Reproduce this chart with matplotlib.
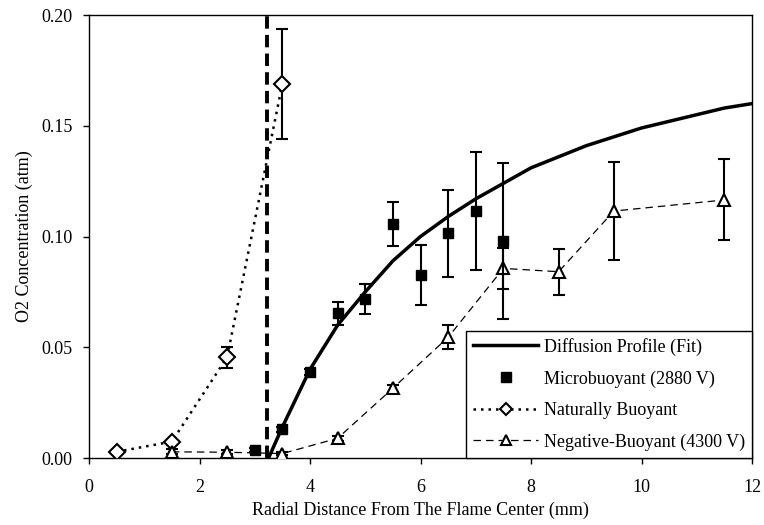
import matplotlib
matplotlib.use("Agg")
import matplotlib.pyplot as plt
from matplotlib.lines import Line2D

plt.rcParams['font.family'] = ['Liberation Serif', 'DejaVu Serif']

# Naturally buoyant flame
nat_r = [0.5, 1.5, 2.5, 3.5]
nat_c = [0.0028, 0.0074, 0.0455, 0.169]
nat_err = [0.0005, 0.0008, 0.0048, 0.0248]

# Microbuoyant flame (2880 V)
micro_r = [3.0, 3.5, 4.0, 4.5, 5.0, 5.5, 6.0, 6.5, 7.0, 7.5]
micro_c = [0.0036, 0.013, 0.0388, 0.0653, 0.0718, 0.1056, 0.0826, 0.1014, 0.1115, 0.098]
micro_err = [0.0008, 0.0012, 0.0015, 0.0052, 0.0068, 0.010, 0.0134, 0.0196, 0.0265, 0.0354]

# Negative-buoyant flame (4300 V)
neg_r = [1.5, 2.5, 3.5, 4.5, 5.5, 6.5, 7.5, 8.5, 9.5, 11.5]
neg_c = [0.0028, 0.0026, 0.002, 0.0089, 0.0315, 0.0545, 0.0856, 0.0841, 0.1115, 0.1165]
neg_err = [0.0012, 0.001, 0.0008, 0.001, 0.0015, 0.0055, 0.0092, 0.0104, 0.0222, 0.0183]

# Diffusion profile fit
fit_r = [3.25, 3.5, 4.0, 4.5, 5.0, 5.5, 6.0, 6.5, 7.0, 7.5, 8.0, 8.5, 9.0, 9.5,
         10.0, 10.5, 11.0, 11.5, 12.0]
fit_c = [0.0, 0.014, 0.040, 0.060, 0.075, 0.089, 0.100, 0.109, 0.117, 0.124,
         0.131, 0.136, 0.141, 0.145, 0.149, 0.152, 0.155, 0.158, 0.160]

flame_radius = 3.23

x_ticks = [0, 2, 4, 6, 8, 10, 12]
y_ticks = [0.00, 0.05, 0.10, 0.15, 0.20]

fig = plt.figure(figsize=(7.64, 5.25), dpi=100)
ax = fig.add_axes([0.1165, 0.1276, 0.8678, 0.8438])

err_kw = dict(ecolor='black', elinewidth=1.5, capsize=4.5, capthick=1.5)

# flame sheet location
ax.axvline(flame_radius, color='black', lw=2.8, dashes=(3.2, 1.6), zorder=2)

# diffusion fit
ax.plot(fit_r, fit_c, color='black', lw=2.5, zorder=3)

# naturally buoyant
ax.plot(nat_r, nat_c, color='black', lw=1.8, linestyle=(0, (1, 2)), zorder=3)
ax.errorbar(nat_r, nat_c, yerr=nat_err, fmt='D', ms=8.5, mfc='white', mec='black',
            mew=1.5, zorder=5, **err_kw)

# negative buoyant
ax.plot(neg_r, neg_c, color='black', lw=0.9, dashes=(6, 4), zorder=3)
ax.errorbar(neg_r, neg_c, yerr=neg_err, fmt='^', ms=8.5, mfc='white', mec='black',
            mew=1.5, zorder=5, **err_kw)

# microbuoyant
ax.errorbar(micro_r, micro_c, yerr=micro_err, fmt='s', ms=6.5, mfc='black', mec='black',
            zorder=6, **err_kw)

ax.set_xlim(0, 12)
ax.set_ylim(0, 0.20)
ax.set_xticks(x_ticks)
ax.set_yticks(y_ticks)
ax.set_yticklabels([f"{v:.2f}" for v in y_ticks])
ax.tick_params(direction='out', length=4, width=1, labelsize=13, colors='black')
ax.tick_params(axis='x', pad=11)
ax.tick_params(axis='y', pad=8)
for sp in ax.spines.values():
    sp.set_linewidth(1.0)
    sp.set_color('black')

ax.set_xlabel("Radial Distance From The Flame Center (mm)", fontsize=13, labelpad=4)
ax.set_ylabel("O2 Concentration (atm)", fontsize=13, labelpad=6)

handles = [
    Line2D([], [], color='black', lw=2.5),
    Line2D([], [], color='black', marker='s', ms=6.5, linestyle='none'),
    Line2D([], [], color='black', lw=1.8, linestyle=(0, (1, 2)), marker='D', ms=6,
           mfc='white', mec='black', mew=1.5),
    Line2D([], [], color='black', lw=0.9, dashes=(6, 4), marker='^', ms=7,
           mfc='white', mec='black', mew=1.5),
]
labels = ["Diffusion Profile (Fit)", "Microbuoyant (2880 V)", "Naturally Buoyant",
          "Negative-Buoyant (4300 V)"]
leg = ax.legend(handles, labels, loc='lower right', fontsize=13, frameon=True,
                fancybox=False, framealpha=1, edgecolor='black', borderaxespad=0,
                handlelength=3.6, labelspacing=0.8, handletextpad=0.3,
                borderpad=0.4)
leg.get_frame().set_linewidth(1.0)

fig.savefig("out.png", dpi=100)
